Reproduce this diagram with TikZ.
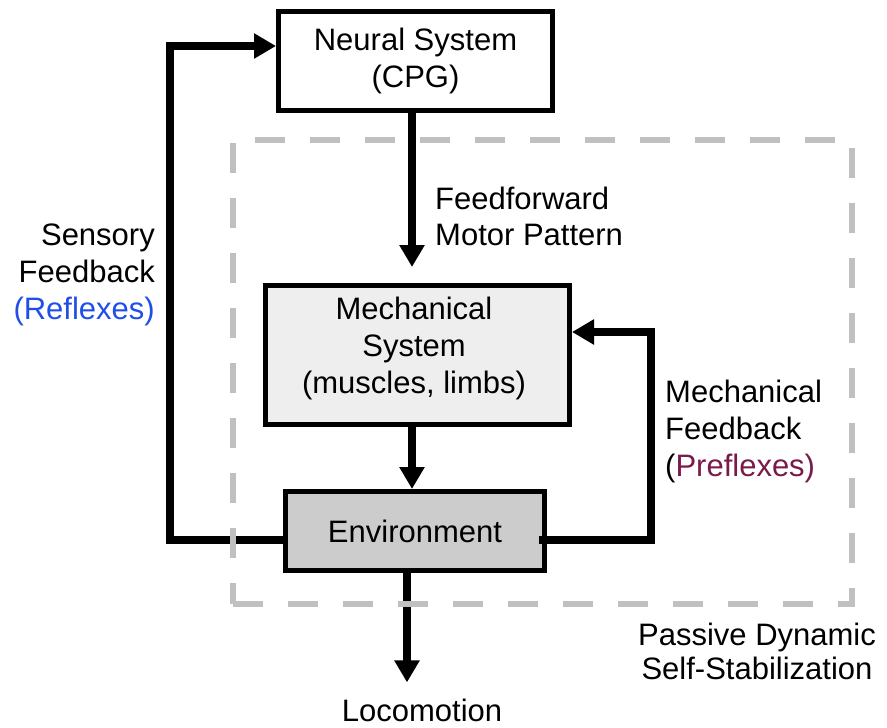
\documentclass[tikz,border=0pt]{standalone}
\usepackage{fontspec}
\setmainfont{Liberation Sans}
\usetikzlibrary{arrows.meta}
\definecolor{refl}{HTML}{1F4FE8}
\definecolor{prefl}{HTML}{7A1A4A}
\definecolor{dashgray}{HTML}{C0C0C0}
\definecolor{mechfill}{HTML}{EEEEEE}
\definecolor{envfill}{HTML}{CCCCCC}
\begin{document}
\begin{tikzpicture}[x=1pt,y=-1pt,
  box/.style={draw=black, line width=5pt, inner sep=0pt, align=center, font=\fontsize{31}{37}\selectfont},
  lbl/.style={inner sep=0pt, font=\fontsize{31}{37}\selectfont},
  conn/.style={line width=7.5pt, -{Triangle[width=24pt,length=22pt]}},
  region/.style={draw=dashgray, line width=6.5pt, dash pattern=on 30pt off 25pt, inner sep=0pt},
]
\useasboundingbox (0,0) rectangle (887,728);

% boxes
\node[box, fill=white, minimum width=274pt, minimum height=99pt] (neural) at (415.5,61) {Neural System\\(CPG)};
\node[box, fill=mechfill, minimum width=304pt, minimum height=139pt] (mech) at (417.5,355) {};
\node[lbl, align=center] (mechtxt) at (414,348) {Mechanical\\System\\(muscles, limbs)};
\node[box, fill=envfill, minimum width=259pt, minimum height=79pt] (env) at (415,531) {Environment};

% labels
\node[lbl, anchor=west, align=left, font=\fontsize{31}{36}\selectfont] (ff) at (435,216) {Feedforward\\Motor Pattern};
\node[lbl, anchor=east, align=right] (sens) at (155,275) {Sensory\\Feedback\\\textcolor{refl}{(Reflexes)}};
\node[lbl, anchor=west, align=left] (mfb) at (665,431) {Mechanical\\Feedback\\(\textcolor{prefl}{Preflexes)}};
\node[lbl, align=center, font=\fontsize{31}{34}\selectfont] (pds) at (757,651.5) {Passive Dynamic\\Self-Stabilization};
\node[lbl] (loco) at (422,710) {Locomotion};

% connectors
\coordinate (cx) at (412,0);
\coordinate (lx) at (407,0);
\draw[conn, shorten >=16pt] (neural.south -| cx) -- (mech.north -| cx);
\draw[conn] (mech.south -| cx) -- (env.north -| cx);
\draw[conn, shorten >=16pt] (env.south -| lx) -- (loco.north -| lx);
\draw[conn] ([yshift=-9pt]env.west) -- ++(-113,0) |- ([yshift=15pt]neural.west);
\draw[conn] ([xshift=-8pt,yshift=-9pt]env.east) -| ([xshift=79pt,yshift=23pt]mech.east) -- ([yshift=23pt]mech.east);

% passive dynamic region
\node[region, minimum width=619pt, minimum height=464pt] (passive) at (542.5,372) {};
\end{tikzpicture}
\end{document}
